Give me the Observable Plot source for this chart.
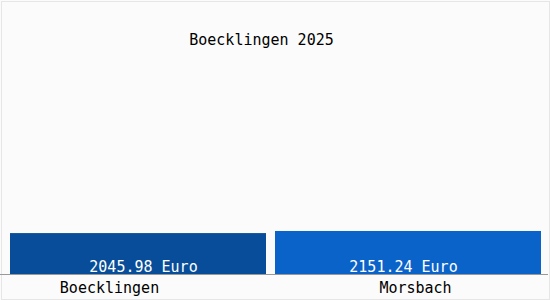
<!DOCTYPE html>
<html>
<head>
<meta charset="utf-8">
<script src="https://cdn.jsdelivr.net/npm/d3@7"></script>
<script src="https://cdn.jsdelivr.net/npm/@observablehq/plot@0.6"></script>
<style>
  html, body { margin: 0; padding: 0; background: #ffffff; }
  #chart svg { display: block; }
</style>
</head>
<body>
<div id="chart"></div>
<script>
const titleText = "Boecklingen 2025";
const categories = ["Boecklingen", "Morsbach"];
const values = [2045.98, 2151.24];
const unit = "Euro";
const colors = ["#084d99", "#0a63c9"];

const data = categories.map((name, i) => ({name, value: values[i], color: colors[i]}));
const font = "DejaVu Sans Mono, monospace";
const first = (d, i) => i === 0;
const second = (d, i) => i === 1;
const label = d => `${d.value.toFixed(2)} ${unit}`;

const chart = Plot.plot({
  width: 550,
  height: 300,
  marginLeft: 10,
  marginRight: 9,
  marginTop: 20,
  marginBottom: 26,
  style: {background: "#fbfbfb", fontFamily: font, fontSize: "15px"},
  x: {domain: categories, paddingInner: 9 / 270, paddingOuter: 0, axis: null},
  y: {domain: [0, 12700], axis: null},
  marks: [
    Plot.frame({stroke: "#e6e6e6", insetLeft: -9, insetRight: -8, insetTop: -19, insetBottom: -25}),
    Plot.barY(data, {filter: first, x: "name", y: "value", fill: "color", insetRight: 5}),
    Plot.barY(data, {filter: second, x: "name", y: "value", fill: "color", insetLeft: -5}),
    Plot.ruleY([0], {stroke: "#999999", insetLeft: -10, insetRight: -7}),
    Plot.text(data, {filter: first, x: "name", y: 0, text: label, fill: "white", dy: -7, dx: 2.5}),
    Plot.text(data, {filter: second, x: "name", y: 0, text: label, fill: "white", dy: -7, dx: -7.5}),
    Plot.text(data, {filter: first, x: "name", y: 0, text: "name", fill: "black", dy: 14, dx: -31.5}),
    Plot.text(data, {filter: second, x: "name", y: 0, text: "name", fill: "black", dy: 14, dx: 4.5}),
    Plot.text([titleText], {frameAnchor: "top", text: d => d, fill: "black", dx: -14.5, dy: 14})
  ]
});
document.getElementById("chart").appendChild(chart);
</script>
</body>
</html>
